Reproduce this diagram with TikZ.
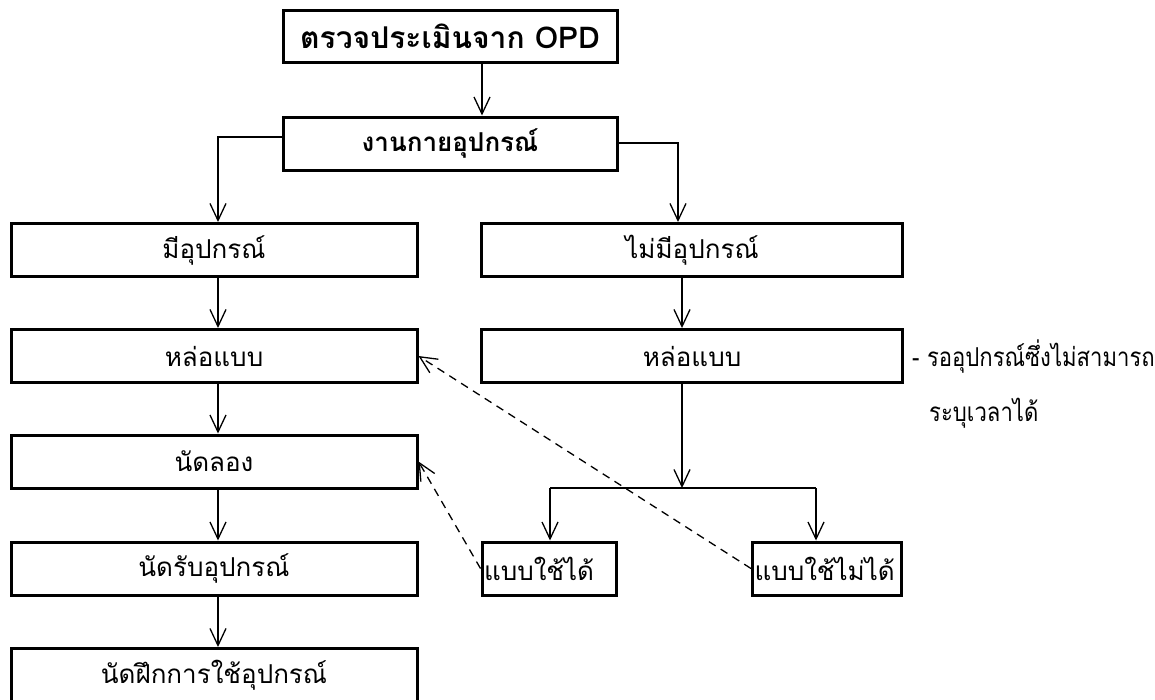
\documentclass[tikz,border=0pt]{standalone}
\usepackage{fontspec}
\newfontfamily\thaifont[Script=Thai]{Loma}
\newfontfamily\thainote[Script=Thai,FakeStretch=0.85]{Loma}
\usetikzlibrary{arrows.meta}

\begin{document}
\begin{tikzpicture}[x=1pt,y=-1pt,
    box/.style={draw,line width=3pt,minimum height=53pt,inner sep=2pt,
      font=\thaifont\fontsize{26}{30}\selectfont},
    boldbox/.style={box,font=\thaifont\bfseries\fontsize{26}{30}\selectfont},
    note/.style={inner sep=0pt,font=\thainote\fontsize{26}{30}\selectfont},
    line/.style={line width=1.3pt},
    arr/.style={line,-{Straight Barb[length=17pt,width=16pt]}},
    back/.style={arr,dash pattern=on 8pt off 6pt}]
          \useasboundingbox (0,0) rectangle (1155,699);

          \node[boldbox,minimum width=334pt,minimum height=52pt,
            font=\thaifont\bfseries\fontsize{30}{34}\selectfont] (opd) at (450,36) {ตรวจประเมินจาก OPD};
          \node[boldbox,minimum width=334pt] (dept) at (450,143.5) {งานกายอุปกรณ์};

          \node[box,minimum width=406pt] (have) at (214,250) {มีอุปกรณ์};
          \node[box,minimum width=406pt] (cast1) at (214,356) {หล่อแบบ};
          \node[box,minimum width=406pt] (try) at (214,461.5) {นัดลอง};
          \node[box,minimum width=406pt] (recv) at (214,568.5) {นัดรับอุปกรณ์};
          \node[box,minimum width=406pt] (train) at (214,675) {นัดฝึกการใช้อุปกรณ์};

          \node[box,minimum width=421pt] (nohave) at (692,250) {ไม่มีอุปกรณ์};
          \node[box,minimum width=421pt] (cast2) at (692,356) {หล่อแบบ};
          \node[box,text width=130pt,align=left] (ok) at (549,568.5) {แบบใช้ได้};
          \node[box,text width=145pt,align=left] (notok) at (827,568.5) {แบบใช้ไม่ได้};

          \node[note,anchor=west] (wait1) at (912,357) {- รออุปกรณ์ซึ่งไม่สามารถ};
          \node[note,anchor=west] (wait2) at (929,413) {ระบุเวลาได้};

          % branches
          \draw[arr] ([xshift=32pt]opd.south) -- ([xshift=32pt]dept.north);
          \coordinate (lturn) at (218,137);
          \coordinate (rturn) at (678,143);
          \draw[arr] (lturn -| dept.west) -- (lturn) -- (lturn |- have.north);
          \draw[arr] (rturn -| dept.east) -- (rturn) -- (rturn |- nohave.north);

          \coordinate (lcol) at (218,0);
          \foreach \a/\b in {have/cast1,cast1/try,try/recv,recv/train}
            \draw[arr] (lcol |- \a.south) -- (lcol |- \b.north);

          \coordinate (rcol) at (682,0);
          \coordinate (split) at (682,488);
          \coordinate (sl) at (550,488);
          \coordinate (sr) at (816,488);
          \draw[arr] (rcol |- nohave.south) -- (rcol |- cast2.north);
          \draw[arr] (rcol |- cast2.south) -- (split);
          \draw[line] (sl) -- (sr);
          \draw[arr] (sl) -- (sl |- ok.north);
          \draw[arr] (sr) -- (sr |- notok.north);

          % back to the left column
          \draw[back] (ok.west) -- (try.east);
          \draw[back] (notok.west) -- (cast1.east);
\end{tikzpicture}
\end{document}
